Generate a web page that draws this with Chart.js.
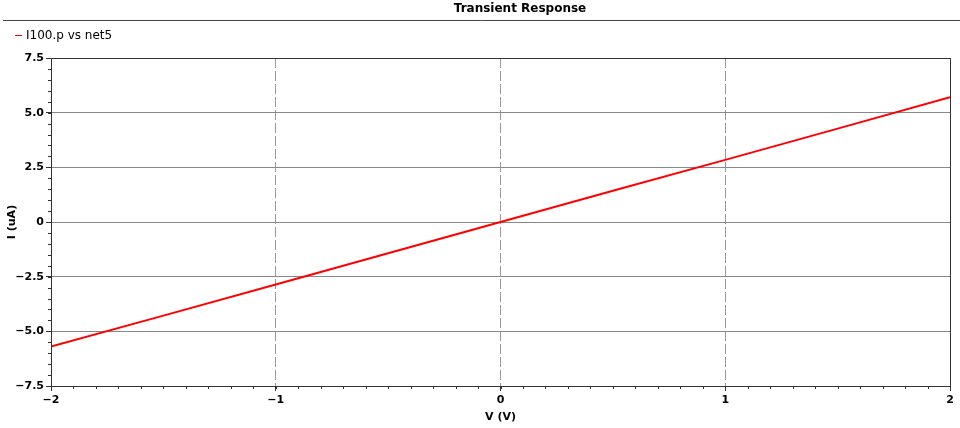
<!DOCTYPE html>
<html>
<head>
<meta charset="utf-8">
<script src="https://cdn.jsdelivr.net/npm/chart.js@4"></script>
<style>
  html, body { margin: 0; padding: 0; background: #fff; }
  #wrap { width: 960px; height: 428px; }
</style>
</head>
<body>
<div id="wrap"><canvas id="chart" width="960" height="428"></canvas></div>
<script>
const voltage = [-2, -1.5, -1, -0.5, 0, 0.5, 1, 1.5, 2];
const current = [-5.7, -4.28, -2.86, -1.43, 0, 1.43, 2.84, 4.27, 5.71];
const seriesName = 'I100.p vs net5';
const chartTitle = 'Transient Response';
const xLabel = 'V (V)';
const yLabel = 'I (uA)';

const points = voltage.map((v, i) => ({ x: v, y: current[i] }));
const minus = s => s.replace('-', '\u2212');

// titre, légende, cadre et petites graduations
const decor = {
    id: 'decor',
    afterDraw(chart) {
        const ctx = chart.ctx;
        const a = chart.chartArea;
        const xs = chart.scales.x, ys = chart.scales.y;
        ctx.save();
        ctx.fillStyle = '#000';
        ctx.font = 'bold 12px "DejaVu Sans"';
        ctx.textAlign = 'center';
        ctx.textBaseline = 'middle';
        ctx.fillText(chartTitle, 520, 9);
        ctx.strokeStyle = '#444';
        ctx.lineWidth = 1;
        ctx.beginPath(); ctx.moveTo(3, 20.5); ctx.lineTo(960, 20.5); ctx.stroke();

        ctx.strokeStyle = '#ff0000';
        ctx.beginPath(); ctx.moveTo(15, 35.5); ctx.lineTo(22, 35.5); ctx.stroke();
        ctx.font = '12px "DejaVu Sans"';
        ctx.textAlign = 'left';
        ctx.fillText(seriesName, 26, 36);

        ctx.strokeStyle = '#333';
        ctx.strokeRect(Math.round(a.left) + 0.5, Math.round(a.top) + 0.5, Math.round(a.right - a.left), Math.round(a.bottom - a.top));
        ctx.beginPath();
        for (let v = -2; v <= 2.0001; v += 0.1) {
            const px = Math.round(xs.getPixelForValue(v)) + 0.5;
            ctx.moveTo(px, a.bottom); ctx.lineTo(px, a.bottom + 3);
        }
        for (let v = -7.5; v <= 7.5001; v += 0.5) {
            const py = Math.round(ys.getPixelForValue(v)) + 0.5;
            ctx.moveTo(a.left - 3, py); ctx.lineTo(a.left, py);
        }
        ctx.stroke();
        ctx.restore();
    }
};

new Chart(document.getElementById('chart'), {
    type: 'scatter',
    data: {
        datasets: [{
            label: seriesName,
            data: points,
            showLine: true,
            borderColor: '#ff0000',
            borderWidth: 2,
            pointRadius: 0,
            tension: 0
        }]
    },
    options: {
        responsive: false,
        animation: false,
        layout: { padding: { top: 58, right: 10, left: 0, bottom: 0 } },
        plugins: { legend: { display: false }, title: { display: false }, tooltip: { enabled: false } },
        scales: {
            x: {
                type: 'linear',
                min: -2, max: 2,
                ticks: {
                    stepSize: 1,
                    color: '#000',
                    font: { family: 'DejaVu Sans', size: 11, weight: 'bold' },
                    padding: 3,
                    callback: v => minus(String(v))
                },
                grid: { color: '#999', tickColor: '#333', tickLength: 5, drawOnChartArea: true },
                border: { display: false, dash: [10, 3] },
                title: {
                    display: true, text: xLabel, color: '#000',
                    font: { family: 'DejaVu Sans', size: 11, weight: 'bold' },
                    padding: { top: 0, bottom: 4 }
                },
                afterFit: s => { s.height = 42; }
            },
            y: {
                type: 'linear',
                min: -7.5, max: 7.5,
                ticks: {
                    stepSize: 2.5,
                    color: '#000',
                    font: { family: 'DejaVu Sans', size: 11, weight: 'bold' },
                    padding: 2,
                    callback: v => v === 0 ? '0' : minus(v.toFixed(1))
                },
                grid: { color: '#888', tickColor: '#333', tickLength: 5 },
                border: { display: false },
                title: {
                    display: true, text: yLabel, color: '#000',
                    font: { family: 'DejaVu Sans', size: 11, weight: 'bold' },
                    padding: { top: 6, bottom: 0 }
                },
                afterFit: s => { s.width = 51; }
            }
        }
    },
    plugins: [decor]
});
</script>
</body>
</html>
